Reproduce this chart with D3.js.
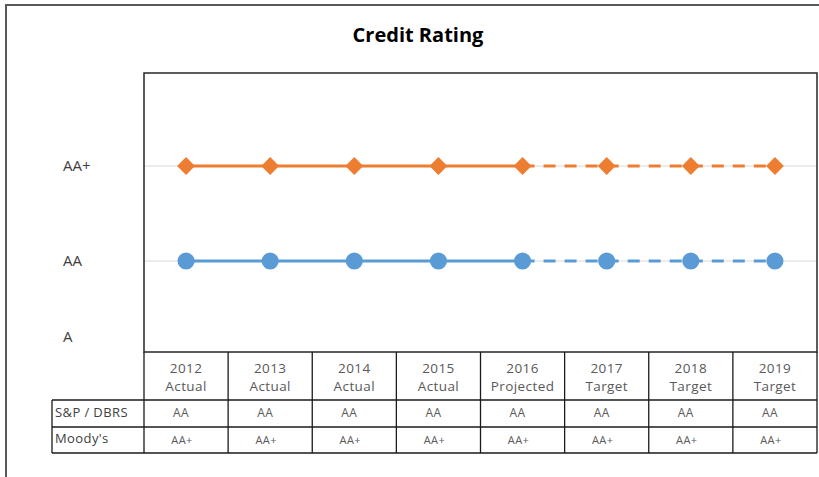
<!DOCTYPE html>
<html>
<head>
<meta charset="utf-8">
<script src="https://cdn.jsdelivr.net/npm/d3@7"></script>
<style>
  body { margin: 0; background: white; }
  svg { display: block; font-family: "Open Sans", sans-serif; }
</style>
</head>
<body>
<div class="chart"></div>
<script>
const years = ['2012', '2013', '2014', '2015', '2016', '2017', '2018', '2019'];
const statuses = ['Actual', 'Actual', 'Actual', 'Actual', 'Projected', 'Target', 'Target', 'Target'];
const ratingLabels = ['A', 'AA', 'AA+'];
const spRatings = ['AA', 'AA', 'AA', 'AA', 'AA', 'AA', 'AA', 'AA'];
const moodysRatings = ['AA+', 'AA+', 'AA+', 'AA+', 'AA+', 'AA+', 'AA+', 'AA+'];

const w = 819;
const h = 477;
const plot = { left: 144, right: 817, top: 73, bottom: 352 };
const rowH = [48, 27, 26];

const svg = d3.select('.chart').append('svg').attr('width', w).attr('height', h);

// outer frame (clipped by the window on right and bottom)
svg.append('path').attr('d', `M6,${h} L6,5 L${w},5`).attr('fill', 'none')
  .attr('stroke', '#595959').attr('stroke-width', 2);

svg.append('text').attr('x', 418).attr('y', 42).attr('text-anchor', 'middle')
  .style('font-size', '20px').style('font-weight', 'bold').attr('fill', '#000')
  .text('Credit Rating');

const xScale = d3.scaleBand().domain(years).range([plot.left, plot.right]);
const rank = (r) => ratingLabels.indexOf(r) + 1;
const yScale = d3.scaleLinear().domain([1, 4]).range([356, 71]);

// gridlines
svg.selectAll('.grid').data(['AA', 'AA+']).enter().append('line').attr('class', 'grid')
  .attr('x1', plot.left).attr('x2', plot.right)
  .attr('y1', (d) => yScale(rank(d))).attr('y2', (d) => yScale(rank(d)))
  .attr('stroke', '#d9d9d9').attr('stroke-width', 1);

// y labels
svg.selectAll('.ylab').data(ratingLabels).enter().append('text').attr('class', 'ylab')
  .attr('x', 63).attr('y', (d) => yScale(rank(d)) + (d === 'A' ? -19 : 0))
  .attr('dy', '0.35em').style('font-size', '15px').attr('fill', '#404040').text((d) => d);

svg.append('rect').attr('x', plot.left).attr('y', plot.top)
  .attr('width', plot.right - plot.left).attr('height', plot.bottom - plot.top)
  .attr('fill', 'none').attr('stroke', '#262626').attr('stroke-width', 1.5);

const cx = (i) => xScale(years[i]) + xScale.bandwidth() / 2;

function drawSeries(values, color, marker) {
  const segs = d3.range(values.length - 1).map((i) => ({ i, dashed: statuses[i] !== 'Actual' }));
  svg.selectAll(null).data(segs).enter().append('line')
    .attr('x1', (d) => cx(d.i)).attr('x2', (d) => cx(d.i + 1))
    .attr('y1', (d) => yScale(rank(values[d.i]))).attr('y2', (d) => yScale(rank(values[d.i + 1])))
    .attr('stroke', color).attr('stroke-width', 3)
    .attr('stroke-dasharray', (d) => d.dashed ? '12,9' : null);
  const sym = d3.symbol().type(marker === 'diamond' ? d3.symbolSquare : d3.symbolCircle)
    .size(marker === 'diamond' ? 160 : 230);
  svg.selectAll(null).data(values).enter().append('path')
    .attr('d', sym)
    .attr('transform', (d, i) => `translate(${cx(i)},${yScale(rank(d))})` + (marker === 'diamond' ? ' rotate(45)' : ''))
    .attr('fill', color);
}
drawSeries(moodysRatings, '#ED7D31', 'diamond');
drawSeries(spRatings, '#5B9BD5', 'circle');

// data table
const t0 = plot.bottom;
const r1 = t0 + rowH[0], r2 = r1 + rowH[1], r3 = r2 + rowH[2];
const tbl = svg.append('g').attr('stroke', '#1a1a1a').attr('stroke-width', 1.3);
tbl.append('line').attr('x1', 52).attr('x2', plot.right).attr('y1', r1).attr('y2', r1);
tbl.append('line').attr('x1', 52).attr('x2', plot.right).attr('y1', r2).attr('y2', r2);
tbl.append('line').attr('x1', 52).attr('x2', plot.right).attr('y1', r3).attr('y2', r3);
tbl.append('line').attr('x1', 52).attr('x2', 52).attr('y1', r1).attr('y2', r3);
tbl.selectAll(null).data(years.concat(['end'])).enter().append('line')
  .attr('x1', (d) => d === 'end' ? plot.right : xScale(d)).attr('x2', (d) => d === 'end' ? plot.right : xScale(d))
  .attr('y1', t0).attr('y2', r3);

const txt = svg.append('g').attr('fill', '#595959').attr('text-anchor', 'middle')
  .style('letter-spacing', '0.4px');
txt.selectAll(null).data(years).enter().append('text')
  .attr('x', (d) => xScale(d) + xScale.bandwidth() / 2).attr('y', t0 + 21)
  .style('font-size', '13.5px').text((d) => d);
txt.selectAll(null).data(statuses).enter().append('text')
  .attr('x', (d, i) => cx(i)).attr('y', t0 + 39)
  .style('font-size', '13.5px').text((d) => d);
txt.selectAll(null).data(spRatings).enter().append('text')
  .attr('x', (d, i) => cx(i) - 5).attr('y', r1 + 17)
  .style('font-size', '12px').text((d) => d);
txt.selectAll(null).data(moodysRatings).enter().append('text')
  .attr('x', (d, i) => cx(i) - 4).attr('y', r2 + 17)
  .style('font-size', '11px').text((d) => d);

svg.append('text').attr('x', 55).attr('y', r1 + 17).style('font-size', '13px')
  .style('letter-spacing', '0.4px').attr('fill', '#404040').text('S&P / DBRS');
svg.append('text').attr('x', 55).attr('y', r2 + 16).style('font-size', '13px')
  .style('letter-spacing', '0.4px').attr('fill', '#404040').text("Moody's");
</script>
</body>
</html>
